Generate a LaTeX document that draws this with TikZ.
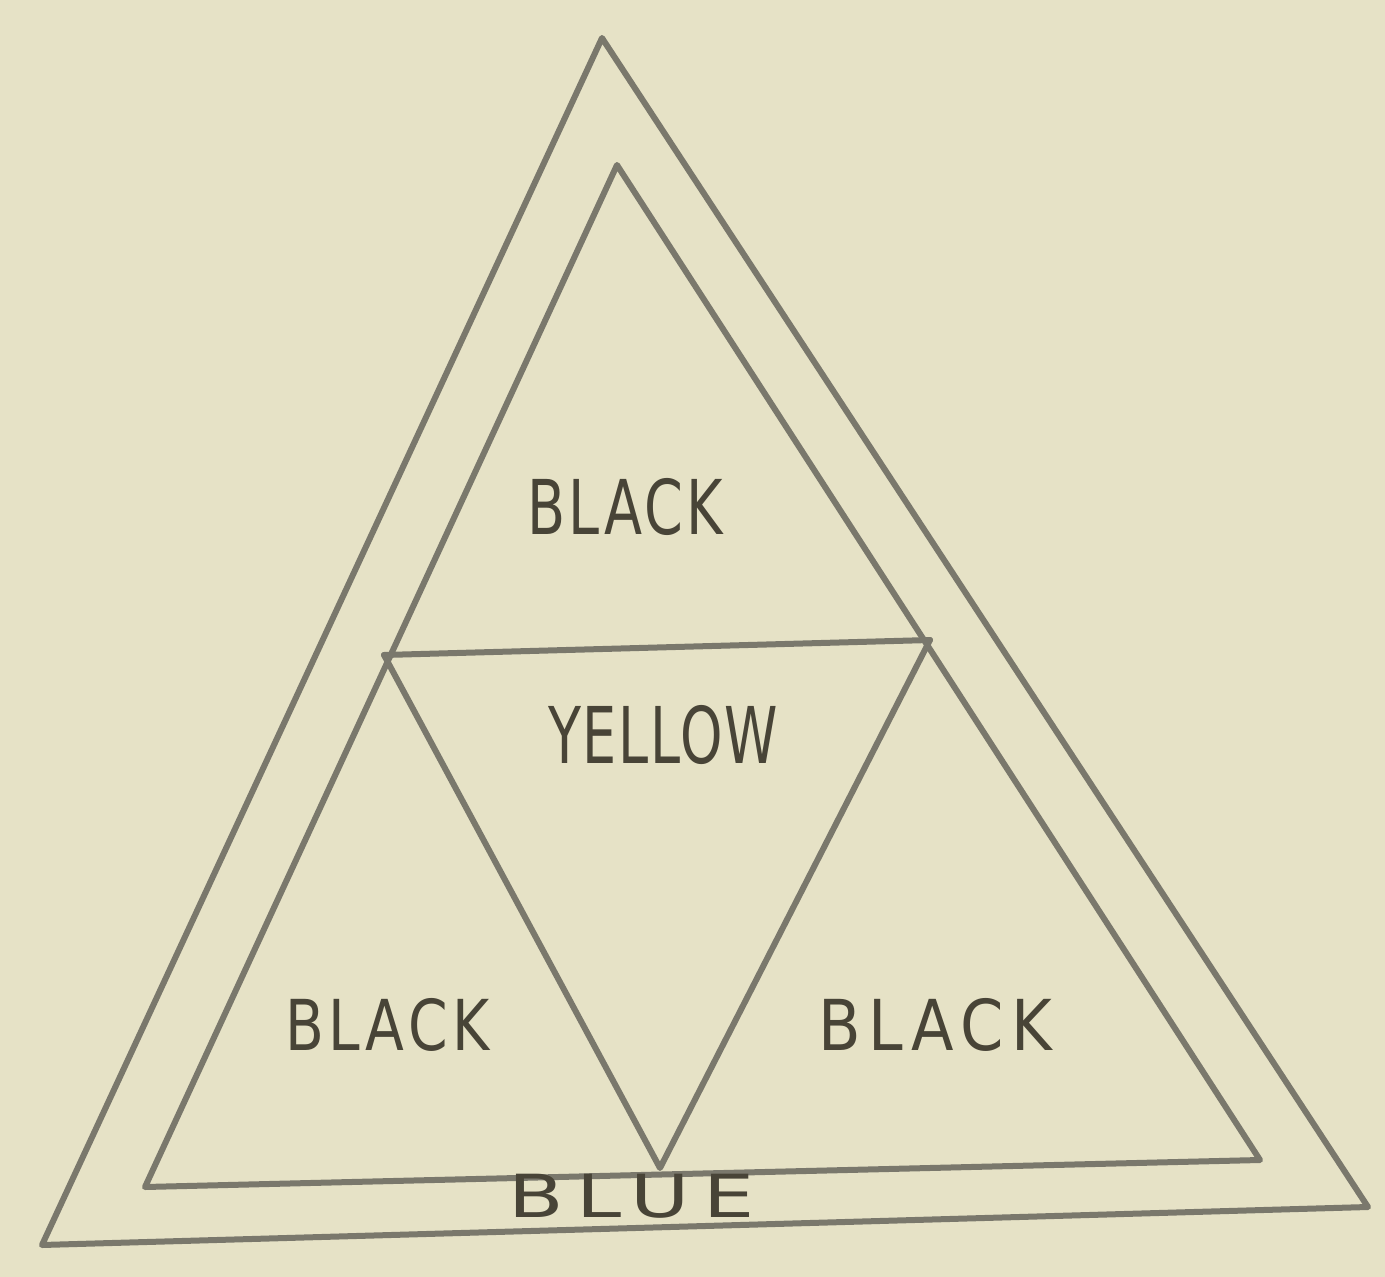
\documentclass[tikz,border=0pt]{standalone}
\usepackage{fontspec}
\setmainfont{DejaVu Sans}
\definecolor{paper}{RGB}{230,226,198}
\definecolor{pencil}{RGB}{122,120,108}
\definecolor{ink}{RGB}{72,68,55}
\newcommand{\hw}[4]{\scalebox{#2}[#3]{\addfontfeature{LetterSpace=#1}#4}}
\begin{document}
\begin{tikzpicture}[x=1pt,y=-1pt,
  edge/.style={draw=pencil,line width=6pt,line cap=round,line join=round},
  lbl/.style={text=ink,font=\fontsize{54}{54}\selectfont,inner sep=0pt,anchor=west}]
\fill[paper] (0,0) rectangle (1385,1277);
\useasboundingbox (0,0) rectangle (1385,1277);
% outer triangle
\coordinate (oa) at (602,38);
\coordinate (ol) at (42,1245);
\coordinate (or) at (1368,1207);
% inner triangle
\coordinate (ia) at (617,165);
\coordinate (il) at (145,1187);
\coordinate (ir) at (1260,1160);
% midpoints
\coordinate (ml) at (384,655);
\coordinate (mr) at (930,640);
\coordinate (mb) at (660,1168);
\draw[edge] (oa) -- (ol) -- (or) -- cycle;
\draw[edge] (ia) -- (il) -- (ir) -- cycle;
\draw[edge] (ml) -- (mr);
\draw[edge] (ml) -- (mb) -- (mr);
\node[lbl] (t1) at (527,507) {\hw{6}{1.03}{1.4}{BLACK}};
\node[lbl] (t2) at (548,735) {\hw{3}{1}{1.45}{YELLOW}};
\node[lbl] (t3) at (285,1025) {\hw{8}{1.05}{1.3}{BLACK}};
\node[lbl] (t4) at (818,1025) {\hw{12}{1.15}{1.3}{BLACK}};
\node[lbl] (t5) at (508,1196) {\hw{16}{1.5}{1.1}{BLUE}};
\end{tikzpicture}
\end{document}
